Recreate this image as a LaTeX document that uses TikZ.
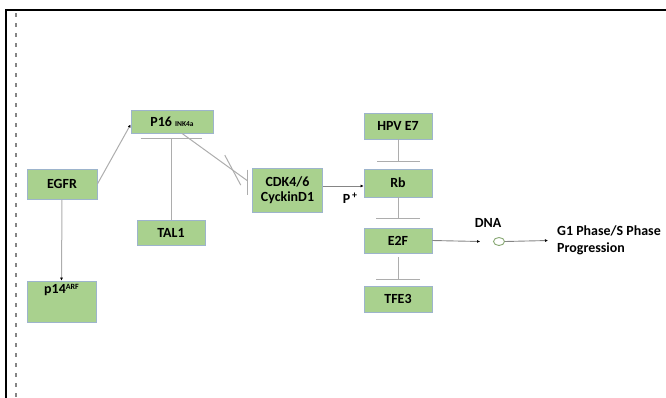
\documentclass[tikz,border=0pt]{standalone}
\usepackage{fontspec}
\setmainfont{Carlito}
\usetikzlibrary{arrows.meta,shapes.geometric,calc}
\definecolor{boxfill}{HTML}{A9D18E}
\definecolor{boxline}{HTML}{9DB4CC}
\definecolor{linkgray}{HTML}{ADADAD}
\definecolor{darklink}{HTML}{858585}
\tikzset{
  gene/.style={draw=boxline, line width=0.8bp, fill=boxfill, inner sep=1bp,
    font=\fontsize{14}{16}\selectfont\bfseries, align=center},
  link/.style={draw=linkgray, line width=1bp},
  act/.style={link, -{Latex[length=3bp,width=3bp,color=black]}},
  dact/.style={draw=darklink, line width=0.9bp, -{Latex[length=3bp,width=3bp,color=black]}},
  txt/.style={font=\fontsize{14}{17}\selectfont\bfseries, inner sep=0pt},
}
\begin{document}
\begin{tikzpicture}[x=1bp,y=-1bp]
\useasboundingbox (0,0) rectangle (666,397);

% frame
\draw[line width=2bp, line cap=rect] (666,10) -- (6,10) -- (6,397);
\draw[darklink, line width=1.6bp, dash pattern=on 4bp off 6bp] (16,13) -- (16,397);

% genes
\node[gene, minimum width=82bp, minimum height=23bp] (p16) at (172,121.5) {P16 {\fontsize{7.5}{8}\selectfont INK4a}};
\node[gene, minimum width=70bp, minimum height=30bp] (egfr) at (62,184) {EGFR};
\node[gene, minimum width=68bp, minimum height=25bp] (tal1) at (171,232.5) {TAL1};
\node[gene, minimum width=70bp, minimum height=44bp] (cdk) at (287.5,190.5) {CDK4/6\\[-1bp]CyckinD1};
\node[gene, minimum width=68bp, minimum height=26bp] (hpv) at (398,126) {HPV E7};
\node[gene, minimum width=68bp, minimum height=28bp] (rb) at (398,183) {Rb};
\node[gene, minimum width=68bp, minimum height=25bp] (e2f) at (398,240.5) {E2F};
\node[gene, minimum width=68bp, minimum height=26bp] (tfe3) at (398,299) {TFE3};
\node[gene, minimum width=69bp, minimum height=41bp,
  label={[anchor=north, yshift=-4bp, inner sep=0pt, font=\fontsize{14}{16}\selectfont\bfseries]north:p14\raisebox{4bp}{\fontsize{8}{9}\selectfont ARF}}]
  (p14) at (61.5,301.5) {};

% EGFR activations
\draw[act] (egfr.east) -- ([yshift=-3bp]p16.west);
\draw[act] (egfr.south) -- (p14.north);

% TAL1 inhibits P16
\draw[link, -{Bar[width=61bp]}] (tal1.north) -- ([yshift=-5bp]tal1.north |- p16.south);

% P16 inhibits CDK4/6-CyclinD1
\coordinate (p16out) at ([xshift=10bp]p16.south);
\coordinate (cdkin) at ([xshift=-5bp,yshift=10bp]cdk.west);
\draw[link] (p16out) -- (cdkin);
\draw[link] ([yshift=11bp]cdkin) -- ([yshift=-14bp]cdkin);
\draw[link] ($(p16out)!0.78!(cdkin)$) ++(-8bp,15bp) -- ++(16bp,-30bp);

% CDK4/6 phosphorylates Rb
\coordinate (rbin) at ([yshift=-3bp]rb.west);
\draw[dact] (cdk.east |- rbin) -- (rbin);
\node[txt] (pplus) at (350,198) {P\raisebox{5bp}{\fontsize{10}{10}\selectfont\,+}};

% inhibitions on the Rb axis
\draw[link, -{Bar[width=43bp]}] (hpv.south) -- ([yshift=7bp]rb.north);
\draw[link, -{Bar[width=44bp]}] (rb.south) -- ([yshift=9bp]e2f.north);
\draw[link, -{Bar[width=44bp]}] ([yshift=-4bp]e2f.south) -- ([yshift=6bp]tfe3.north);

% E2F drives transcription
\node[draw=boxfill!80!black, line width=0.9bp, fill=white, ellipse, minimum width=11bp, minimum height=8bp, inner sep=0pt] (dna) at (499,241.5) {};
\node[txt] (dnalabel) at (488,223) {DNA};
\coordinate (dnain) at ([xshift=-13bp]dna.west);
\draw[dact] (e2f.east) -- (dnain);
\node[txt, anchor=west, align=left] (g1s) at (557,240.5) {G1 Phase/S Phase\\Progression};
\coordinate (g1in) at ([xshift=-9bp]g1s.west);
\draw[dact] (dna.east) -- (g1in);
\end{tikzpicture}
\end{document}
